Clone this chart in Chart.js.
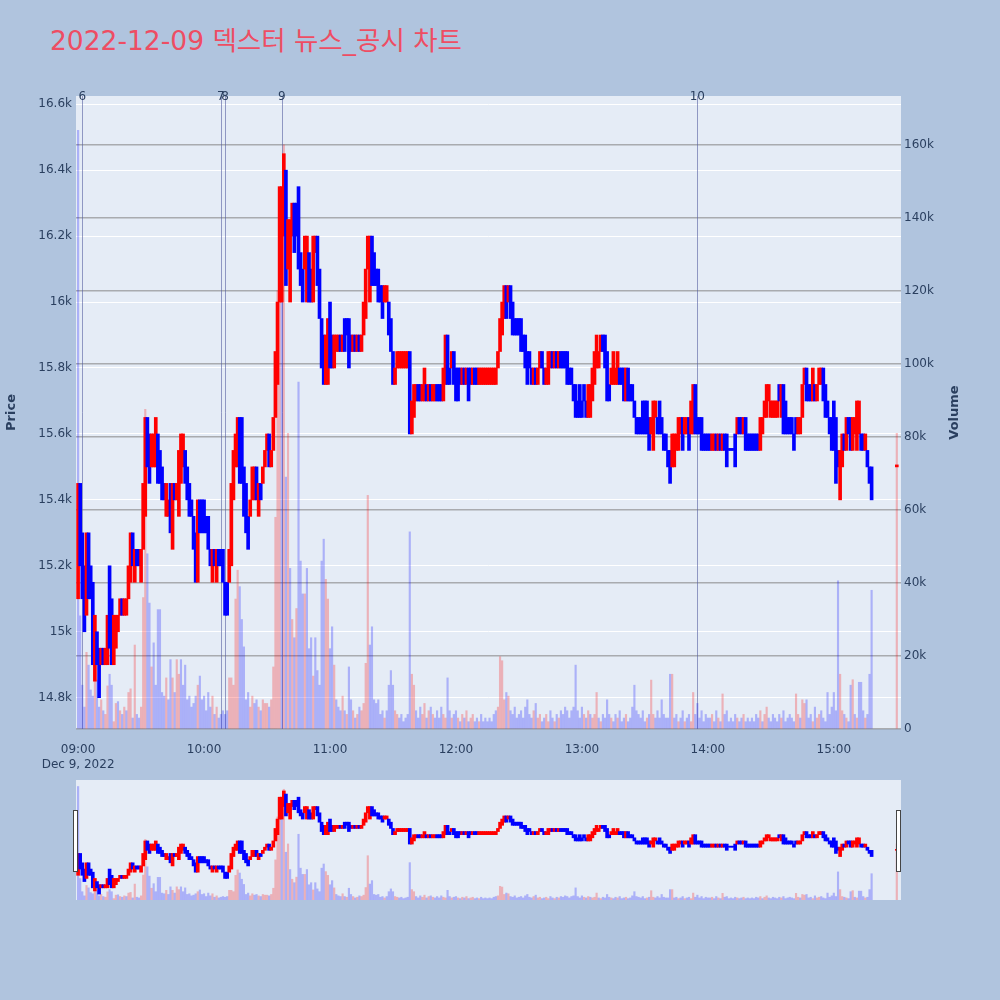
<!DOCTYPE html>
<html lang="ko">
<head>
<meta charset="utf-8">
<title>2022-12-09 덱스터 뉴스_공시 차트</title>
<script src="https://cdn.jsdelivr.net/npm/chart.js@4.4.0/dist/chart.umd.min.js"></script>
<style>
  html, body { margin: 0; padding: 0; background: #b0c4de; }
  body { width: 1000px; height: 1000px; position: relative; overflow: hidden; }
  #title {
    position: absolute; left: 50px; top: 28px; line-height: 26px;
    font-family: "DejaVu Sans", "Noto Sans CJK KR", sans-serif;
    font-size: 26.5px; color: #ee4d63; white-space: nowrap;
  }
  #main { position: absolute; left: 0; top: 0; }
  #slider { position: absolute; left: 0; top: 770px; }
</style>
</head>
<body>
<div id="title">2022-12-09 덱스터 뉴스_공시 차트</div>
<canvas id="main" width="1000" height="770"></canvas>
<canvas id="slider" width="1000" height="140"></canvas>
<script>
// 1분봉, 인덱스 0 = 09:00
const startHour = 9;
const prevDayClose = 15500;

const opens = [
  15150,15450,15300,15200,15050,15300,15200,15150,14900,15000,
  14950,14900,14950,14900,14900,15200,15100,14900,14950,15000,
  15050,15100,15050,15050,15100,15150,15300,15150,15250,15250,
  15150,15250,15350,15650,15600,15500,15500,15500,15600,15550,
  15500,15450,15350,15350,15450,15250,15450,15400,15350,15450,
  15500,15550,15500,15450,15400,15350,15300,15150,15400,15400,
  15400,15350,15350,15250,15150,15250,15150,15250,15250,15250,
  15150,15150,15150,15200,15400,15500,15500,15650,15600,15500,
  15450,15350,15350,15400,15400,15500,15350,15450,15450,15500,
  15550,15600,15500,15550,15650,15750,16000,16000,16200,16400,
  16100,16000,16200,16300,16300,16350,16150,16100,16100,16000,
  16150,16100,16000,16150,16200,16100,15950,15900,15750,15750,
  15950,15900,15800,15850,15850,15900,15850,15950,15950,15950,
  15900,15850,15900,15850,15900,15850,15900,15950,16100,16000,
  16200,16150,16100,16100,16050,16050,16000,16000,16000,15950,
  15850,15750,15800,15800,15800,15800,15800,15800,15850,15600,
  15650,15700,15750,15750,15700,15700,15750,15700,15750,15700,
  15700,15750,15750,15750,15700,15750,15900,15800,15800,15850,
  15800,15800,15800,15750,15800,15750,15800,15800,15750,15800,
  15800,15750,15750,15750,15750,15750,15750,15750,15750,15750,15800,
  15850,15900,15950,16050,16000,16050,16000,15950,15950,15950,
  15950,15900,15900,15850,15850,15800,15750,15800,15750,15800,
  15850,15800,15750,15750,15800,15850,15800,15850,15800,15850,
  15850,15850,15850,15800,15800,15750,15750,15700,15750,15700,
  15750,15700,15650,15650,15700,15750,15800,15800,15850,15900,
  15900,15850,15750,15750,15750,15750,15750,15800,15800,15800,
  15700,15800,15750,15750,15700,15650,15650,15650,15700,15700,
  15700,15650,15600,15550,15650,15650,15700,15650,15600,15600,
  15550,15550,15500,15500,15550,15550,15600,15650,15600,15600,
  15650,15600,15600,15750,15650,15650,15650,15600,15600,15600,
  15600,15550,15550,15600,15550,15600,15550,15600,15600,15550,
  15550,15550,15600,15600,15650,15650,15600,15650,15600,15600,15600,
  15600,15600,15600,15550,15600,15650,15650,15700,15650,15650,
  15650,15650,15750,15650,15750,15700,15650,15650,15650,15600,
  15650,15600,15600,15650,15750,15800,15750,15750,15700,15750,
  15700,15750,15750,15800,15750,15700,15650,15650,15700,15650,
  15550,15400,15500,15600,15550,15650,15650,15550,15600,15550,
  15600,15600,15600,15550,15550,15500,15500
];

const highs = [
  15450,15450,15300,15200,15300,15300,15200,15150,15050,15000,
  14950,14950,14950,14950,15050,15200,15100,15050,15050,15050,
  15100,15100,15100,15100,15200,15300,15300,15250,15250,15250,
  15250,15450,15650,15650,15600,15600,15600,15650,15600,15550,
  15500,15450,15450,15400,15450,15450,15450,15450,15550,15600,
  15600,15550,15500,15450,15400,15350,15300,15400,15400,15400,
  15400,15350,15350,15250,15250,15250,15250,15250,15250,15250,
  15150,15150,15250,15450,15550,15600,15650,15650,15650,15500,
  15450,15350,15400,15500,15500,15500,15450,15450,15500,15550,
  15600,15600,15550,15650,15850,16000,16350,16350,16450,16400,
  16250,16250,16300,16300,16300,16350,16150,16100,16200,16200,
  16150,16100,16200,16200,16200,16100,15950,15900,15900,15950,
  16000,15900,15900,15900,15900,15900,15900,15950,15950,15950,
  15900,15900,15900,15900,15900,15900,16000,16100,16200,16200,
  16200,16150,16100,16100,16050,16050,16050,16050,16000,15950,
  15850,15800,15850,15850,15850,15850,15850,15850,15850,15700,
  15750,15750,15750,15750,15750,15800,15750,15750,15750,15750,
  15750,15750,15750,15750,15800,15900,15900,15800,15850,15850,
  15800,15800,15800,15800,15800,15800,15800,15800,15800,15800,
  15800,15800,15800,15800,15800,15800,15800,15800,15800,15800,15850,
  15950,16000,16050,16050,16050,16050,16000,15950,15950,15950,
  15950,15900,15900,15850,15850,15800,15800,15800,15800,15850,
  15850,15800,15800,15850,15850,15850,15850,15850,15850,15850,
  15850,15850,15850,15800,15800,15750,15750,15700,15750,15700,
  15750,15700,15750,15750,15800,15850,15900,15850,15900,15900,
  15900,15850,15750,15800,15850,15800,15850,15800,15800,15800,
  15800,15800,15750,15750,15700,15650,15650,15650,15700,15700,
  15700,15650,15650,15700,15700,15650,15700,15650,15600,15600,
  15550,15550,15600,15600,15600,15650,15650,15650,15650,15650,
  15650,15700,15750,15750,15650,15650,15650,15600,15600,15600,
  15600,15600,15600,15600,15600,15600,15600,15600,15600,15550,
  15550,15550,15600,15650,15650,15650,15650,15650,15600,15600,15600,
  15600,15600,15600,15650,15650,15700,15750,15750,15700,15700,
  15700,15700,15750,15750,15750,15700,15650,15650,15650,15600,
  15650,15650,15650,15750,15800,15800,15750,15750,15800,15750,
  15750,15800,15800,15800,15750,15700,15650,15650,15700,15650,
  15550,15550,15600,15600,15650,15650,15650,15650,15650,15700,
  15700,15600,15600,15600,15550,15500,15500
];

const lows = [
  15100,15200,15100,15000,15050,15100,15100,14900,14850,14900,
  14800,14900,14900,14900,14900,14950,14900,14900,14950,15000,
  15050,15050,15050,15050,15100,15150,15200,15150,15200,15200,
  15150,15250,15350,15500,15450,15500,15500,15500,15450,15450,
  15400,15400,15350,15350,15300,15250,15400,15400,15350,15450,
  15500,15450,15400,15350,15350,15250,15150,15150,15300,15300,
  15300,15300,15250,15200,15150,15200,15150,15200,15200,15150,
  15050,15050,15150,15200,15400,15500,15500,15450,15450,15350,
  15300,15250,15350,15400,15400,15400,15350,15400,15450,15500,
  15550,15500,15500,15550,15650,15750,16000,16000,16200,16050,
  16100,16000,16200,16150,16200,16100,16050,16000,16100,16000,
  16000,16000,16000,16150,16050,15950,15800,15750,15750,15750,
  15800,15800,15800,15850,15850,15850,15850,15850,15900,15800,
  15850,15850,15850,15850,15850,15850,15900,15950,16100,16000,
  16050,16050,16050,16000,16000,15950,16000,16000,15900,15850,
  15750,15750,15800,15800,15800,15800,15800,15800,15600,15600,
  15650,15700,15700,15700,15700,15700,15700,15700,15700,15700,
  15700,15700,15700,15700,15700,15750,15750,15750,15800,15750,
  15700,15700,15750,15750,15750,15750,15700,15750,15750,15750,
  15750,15750,15750,15750,15750,15750,15750,15750,15750,15750,15800,
  15850,15900,15950,15950,16000,15950,15900,15900,15900,15900,
  15850,15850,15800,15750,15800,15750,15750,15750,15750,15800,
  15800,15750,15750,15750,15800,15800,15800,15800,15800,15800,
  15800,15800,15750,15750,15750,15700,15650,15650,15650,15650,
  15700,15650,15650,15650,15700,15750,15800,15800,15850,15850,
  15800,15700,15700,15750,15750,15750,15750,15750,15750,15700,
  15700,15700,15700,15700,15650,15600,15600,15600,15600,15600,
  15600,15550,15600,15550,15650,15600,15600,15600,15550,15550,
  15500,15450,15500,15500,15550,15550,15600,15550,15600,15600,
  15550,15600,15600,15600,15600,15600,15550,15550,15550,15550,
  15550,15550,15550,15550,15550,15550,15550,15550,15500,15550,
  15550,15550,15500,15600,15600,15600,15600,15550,15550,15550,15550,
  15550,15550,15550,15550,15600,15650,15650,15700,15650,15650,
  15650,15650,15700,15650,15600,15600,15600,15600,15600,15550,
  15600,15600,15600,15650,15750,15700,15700,15700,15700,15700,
  15700,15750,15750,15700,15650,15650,15600,15550,15550,15450,
  15500,15400,15500,15550,15550,15600,15550,15550,15600,15550,
  15600,15550,15550,15550,15500,15450,15400
];

const closes = [
  15450,15250,15150,15050,15300,15150,15100,14900,15000,14900,
  14900,14950,14900,14950,15050,15000,14900,15000,15050,15050,
  15100,15050,15100,15100,15200,15300,15200,15250,15200,15200,
  15250,15450,15650,15500,15500,15600,15600,15600,15450,15450,
  15400,15400,15450,15400,15350,15450,15400,15450,15550,15550,
  15550,15450,15400,15350,15350,15250,15150,15400,15300,15300,
  15300,15300,15250,15200,15250,15200,15250,15200,15200,15150,
  15100,15100,15250,15450,15550,15600,15650,15500,15450,15350,
  15300,15250,15400,15500,15500,15400,15450,15400,15500,15550,
  15600,15500,15550,15650,15850,16000,16350,16300,16400,16100,
  16250,16250,16300,16150,16200,16100,16050,16000,16200,16200,
  16000,16000,16200,16200,16050,15950,15800,15800,15900,15950,
  15800,15800,15900,15900,15900,15850,15900,15850,15900,15900,
  15850,15900,15850,15900,15850,15900,16000,16100,16200,16200,
  16050,16050,16050,16000,16000,15950,16050,16050,15900,15850,
  15750,15800,15850,15850,15850,15850,15850,15850,15600,15700,
  15750,15750,15700,15700,15750,15800,15700,15750,15700,15750,
  15750,15700,15700,15700,15800,15900,15750,15750,15850,15750,
  15700,15750,15750,15800,15750,15800,15700,15750,15800,15750,
  15750,15800,15800,15800,15800,15800,15800,15800,15800,15800,15850,
  15950,16000,16050,15950,16050,15950,15900,15900,15900,15900,
  15850,15850,15800,15800,15800,15750,15800,15750,15800,15850,
  15800,15750,15800,15850,15850,15800,15850,15800,15850,15800,
  15800,15800,15750,15750,15750,15700,15650,15650,15650,15650,
  15700,15650,15750,15700,15800,15850,15900,15850,15900,15850,
  15800,15700,15700,15800,15800,15800,15850,15750,15750,15700,
  15800,15700,15700,15700,15650,15600,15600,15600,15600,15600,
  15650,15550,15650,15700,15700,15600,15600,15600,15550,15550,
  15500,15500,15600,15600,15600,15650,15650,15550,15650,15650,
  15550,15700,15750,15600,15600,15600,15550,15550,15550,15550,
  15550,15600,15600,15550,15600,15550,15600,15550,15550,15550,
  15550,15550,15550,15650,15600,15600,15650,15550,15550,15550,15550,
  15550,15550,15550,15650,15650,15700,15750,15750,15700,15700,
  15700,15700,15700,15750,15600,15600,15600,15600,15600,15550,
  15600,15650,15650,15750,15800,15700,15700,15700,15800,15700,
  15750,15800,15800,15700,15650,15650,15600,15550,15550,15500,
  15500,15550,15600,15550,15650,15600,15550,15650,15650,15700,
  15700,15550,15550,15600,15500,15450,15450
];

const volumes = [
  164000,31000,12000,6000,21000,17500,10700,9000,18700,13400,
  6000,8000,5000,4000,11800,15000,12000,2000,7000,7500,
  5000,4000,6000,5000,10000,11000,3000,23000,4000,3000,
  6000,36000,87600,48000,34500,17000,23600,12000,32700,32700,
  10000,9000,14000,8000,19000,14000,10000,19000,15000,19000,
  12000,17500,8000,9000,6000,7000,9000,12000,14500,8000,
  9000,5000,10000,6000,9000,4000,6000,3000,4000,5000,
  4000,5000,14000,14000,12000,35600,43500,39000,30000,22500,
  8000,10000,6000,9000,7000,8000,6000,5000,8000,7000,
  7000,6000,8000,17000,58000,120000,148000,135000,160000,69000,
  81000,44000,30000,25000,33000,95000,46000,37000,37000,44000,
  22000,25000,14500,25000,16000,12000,46000,52000,41000,35600,
  22000,28000,17500,8000,6000,5000,9000,5000,4000,17000,
  8000,5000,3000,4000,6000,5000,7000,18000,64000,23000,
  28000,8000,7000,8000,4000,5000,3000,5000,12000,16000,
  12000,5000,4000,3000,4000,2000,3000,4000,54000,15000,
  12000,5000,3000,6000,4000,7000,3000,5000,6000,4000,
  3000,5000,3000,6000,4000,3000,14000,5000,3000,4000,
  5000,3000,2000,4000,3000,5000,2000,3000,4000,2000,
  3000,2000,4000,2000,3000,2000,3000,2000,4000,5000,6000,
  19800,18700,8000,10000,9000,5000,4000,6000,3000,4000,
  5000,3000,6000,8000,4000,3000,5000,7000,3000,4000,
  2000,3000,4000,2000,5000,3000,2000,4000,3000,5000,
  4000,6000,5000,3000,5000,6000,17500,5000,3000,6000,
  4000,3000,5000,4000,3000,4000,10000,3000,2000,4000,
  3000,8000,4000,3000,2000,4000,3000,5000,2000,3000,
  4000,2000,3000,6000,12000,5000,4000,3000,5000,2000,
  3000,4000,13400,4000,3000,5000,3000,8000,4000,3000,
  3000,15000,15000,3000,4000,2000,3000,5000,2000,3000,
  4000,2000,10000,4000,7000,3000,5000,2000,4000,3000,
  3000,4000,2000,5000,3000,2000,9600,4000,5000,2000,
  3000,2000,4000,3000,2000,3000,4000,2000,3000,2000,3000,
  2000,4000,3000,5000,2000,4000,6000,3000,2000,4000,
  3000,2000,4000,3000,5000,2000,3000,4000,3000,2000,
  9600,4000,3000,8000,7000,8000,3000,4000,2000,6000,
  3000,4000,5000,3000,2000,10000,4000,6000,10000,5000,
  40600,15000,5000,4000,3000,2000,12000,13500,4000,3000,
  12800,12800,5000,3000,4000,15000,38000
];

// 15:30 동시호가
const closingMinute = 390;
const closingPrice = 15500;
const closingVolume = 81000;

// 뉴스/공시 시점
const eventLabels = ['6', '7', '8', '9', '10'];
const eventTimes = ['09:02', '10:08', '10:10', '10:37', '13:55'];

// 축 눈금
const priceTicks = [14800, 15000, 15200, 15400, 15600, 15800, 16000, 16200, 16400, 16600];
const volumeTicks = [0, 20000, 40000, 60000, 80000, 100000, 120000, 140000, 160000];
const timeTicks = ['09:00', '10:00', '11:00', '12:00', '13:00', '14:00', '15:00'];
const dateLabel = 'Dec 9, 2022';

const FONT = '"DejaVu Sans", "Noto Sans CJK KR", sans-serif';
const TEXT = '#2a3f5f';
const UP = '#ff0000', DOWN = '#0000ff';
const UP_VOL = 'rgba(255,0,0,0.25)', DOWN_VOL = 'rgba(0,0,255,0.25)';

const toMinute = (t) => {
  const [h, m] = t.split(':').map(Number);
  return (h - startHour) * 60 + m;
};

const fmtTime = (v) => {
  const h = startHour + Math.floor(v / 60);
  const m = v % 60;
  return String(h).padStart(2, '0') + ':' + String(m).padStart(2, '0');
};

const fmtK = (v) => (v === 0 ? '0' : (Math.round(v / 100) / 10) + 'k');

const buildDatasets = (candleWidth, volWidth, minLen) => {
  const candles = [], candleColors = [], vols = [], volColors = [];
  for (let i = 0; i < closes.length; i++) {
    candles.push({ x: i, y: [lows[i], highs[i]] });
    candleColors.push(closes[i] > opens[i] ? UP : DOWN);
    vols.push({ x: i, y: volumes[i] });
    const prev = i === 0 ? prevDayClose : closes[i - 1];
    volColors.push(closes[i] > prev ? UP_VOL : DOWN_VOL);
  }
  candles.push({ x: closingMinute, y: [closingPrice, closingPrice] });
  candleColors.push(UP);
  vols.push({ x: closingMinute, y: closingVolume });
  volColors.push(closingPrice > closes[closes.length - 1] ? UP_VOL : DOWN_VOL);

  return [
    {
      label: 'OHLC', data: candles, yAxisID: 'price',
      backgroundColor: candleColors, barThickness: candleWidth,
      minBarLength: minLen, grouped: false, order: 1
    },
    {
      label: 'Volume', data: vols, yAxisID: 'vol',
      backgroundColor: volColors, barThickness: volWidth,
      grouped: false, order: 2
    }
  ];
};

const plotBg = {
  id: 'plotBg',
  beforeDraw(chart) {
    const { ctx, chartArea: a } = chart;
    ctx.save();
    ctx.fillStyle = '#e5ecf6';
    ctx.fillRect(a.left, a.top, a.right - a.left, a.bottom - a.top);
    ctx.restore();
  }
};

const eventLines = {
  id: 'eventLines',
  beforeDatasetsDraw(chart) {
    const { ctx, chartArea: a, scales: { x } } = chart;
    ctx.save();
    ctx.strokeStyle = 'rgba(85,95,160,0.6)';
    ctx.lineWidth = 1;
    eventTimes.forEach((t) => {
      const px = Math.round(x.getPixelForValue(toMinute(t))) + 0.5;
      ctx.beginPath();
      ctx.moveTo(px, a.top);
      ctx.lineTo(px, a.bottom);
      ctx.stroke();
    });
    ctx.restore();
  },
  afterDraw(chart) {
    const { ctx, chartArea: a, scales: { x } } = chart;
    ctx.save();
    ctx.fillStyle = TEXT;
    ctx.font = '12px ' + FONT;
    ctx.textAlign = 'center';
    ctx.textBaseline = 'middle';
    eventTimes.forEach((t, i) => {
      ctx.fillText(eventLabels[i], x.getPixelForValue(toMinute(t)), a.top + 1);
    });
    // 오른쪽 축 제목
    ctx.translate(955, (a.top + a.bottom) / 2);
    ctx.rotate(-Math.PI / 2);
    ctx.font = 'bold 13px ' + FONT;
    ctx.fillText('Volume', 0, 0);
    ctx.restore();
  }
};

const sliderHandles = {
  id: 'sliderHandles',
  afterDraw(chart) {
    const { ctx, chartArea: a } = chart;
    ctx.save();
    ctx.fillStyle = '#ffffff';
    ctx.strokeStyle = '#444444';
    ctx.lineWidth = 1;
    [a.left - 3, a.right - 5].forEach((hx) => {
      ctx.fillRect(hx + 0.5, a.top + 30.5, 4, 61);
      ctx.strokeRect(hx + 0.5, a.top + 30.5, 4, 61);
    });
    ctx.restore();
  }
};

const tickFont = { family: FONT, size: 12 };
const setTicks = (values) => (s) => { s.ticks = values.map((v) => ({ value: v })); };

new Chart(document.getElementById('main'), {
  type: 'bar',
  data: { datasets: buildDatasets(3, 1.5, 2) },
  options: {
    responsive: false,
    animation: false,
    events: [],
    layout: { padding: { top: 96, left: 0, right: 0, bottom: 0 } },
    plugins: { legend: { display: false }, tooltip: { enabled: false } },
    scales: {
      x: {
        type: 'linear', min: -1, max: 392, offset: false,
        grid: { display: false, offset: false },
        border: { display: false },
        afterBuildTicks: setTicks(timeTicks.map(toMinute)),
        ticks: {
          autoSkip: false, maxRotation: 0,
          padding: 6, color: TEXT, font: tickFont,
          callback: (v) => (v === 0 ? [fmtTime(v), dateLabel] : fmtTime(v))
        },
        afterFit: (s) => { s.height = 41; }
      },
      price: {
        type: 'linear', position: 'left', min: 14705, max: 16625, beginAtZero: false,
        grid: { color: '#ffffff', lineWidth: 1, drawTicks: false },
        border: { display: false },
        afterBuildTicks: setTicks(priceTicks),
        ticks: { padding: 4, color: TEXT, font: tickFont, callback: fmtK },
        title: {
          display: true, text: 'Price', color: TEXT,
          font: { family: FONT, size: 13, weight: 'bold' }, padding: { top: 4, bottom: 4 }
        },
        afterFit: (s) => { s.width = 76; }
      },
      vol: {
        type: 'linear', position: 'right', min: 0, max: 173400,
        grid: { color: 'rgba(128,128,128,0.6)', lineWidth: 1.5, drawTicks: false },
        border: { display: false },
        afterBuildTicks: setTicks(volumeTicks),
        ticks: { padding: 3, color: TEXT, font: tickFont, callback: fmtK },
        afterFit: (s) => { s.width = 99; }
      }
    }
  },
  plugins: [plotBg, eventLines]
});

// 레인지 슬라이더 (축 없이 같은 데이터)
new Chart(document.getElementById('slider'), {
  type: 'bar',
  data: { datasets: buildDatasets(3, 1.5, 1) },
  options: {
    responsive: false,
    animation: false,
    events: [],
    layout: { padding: { top: 10, left: 76, right: 99, bottom: 10 } },
    plugins: { legend: { display: false }, tooltip: { enabled: false } },
    scales: {
      x: { type: 'linear', min: -1, max: 392, offset: false, display: false },
      price: { type: 'linear', min: 14705, max: 16625, beginAtZero: false, display: false },
      vol: { type: 'linear', min: 0, max: 173400, display: false }
    }
  },
  plugins: [plotBg, sliderHandles]
});
</script>
</body>
</html>
